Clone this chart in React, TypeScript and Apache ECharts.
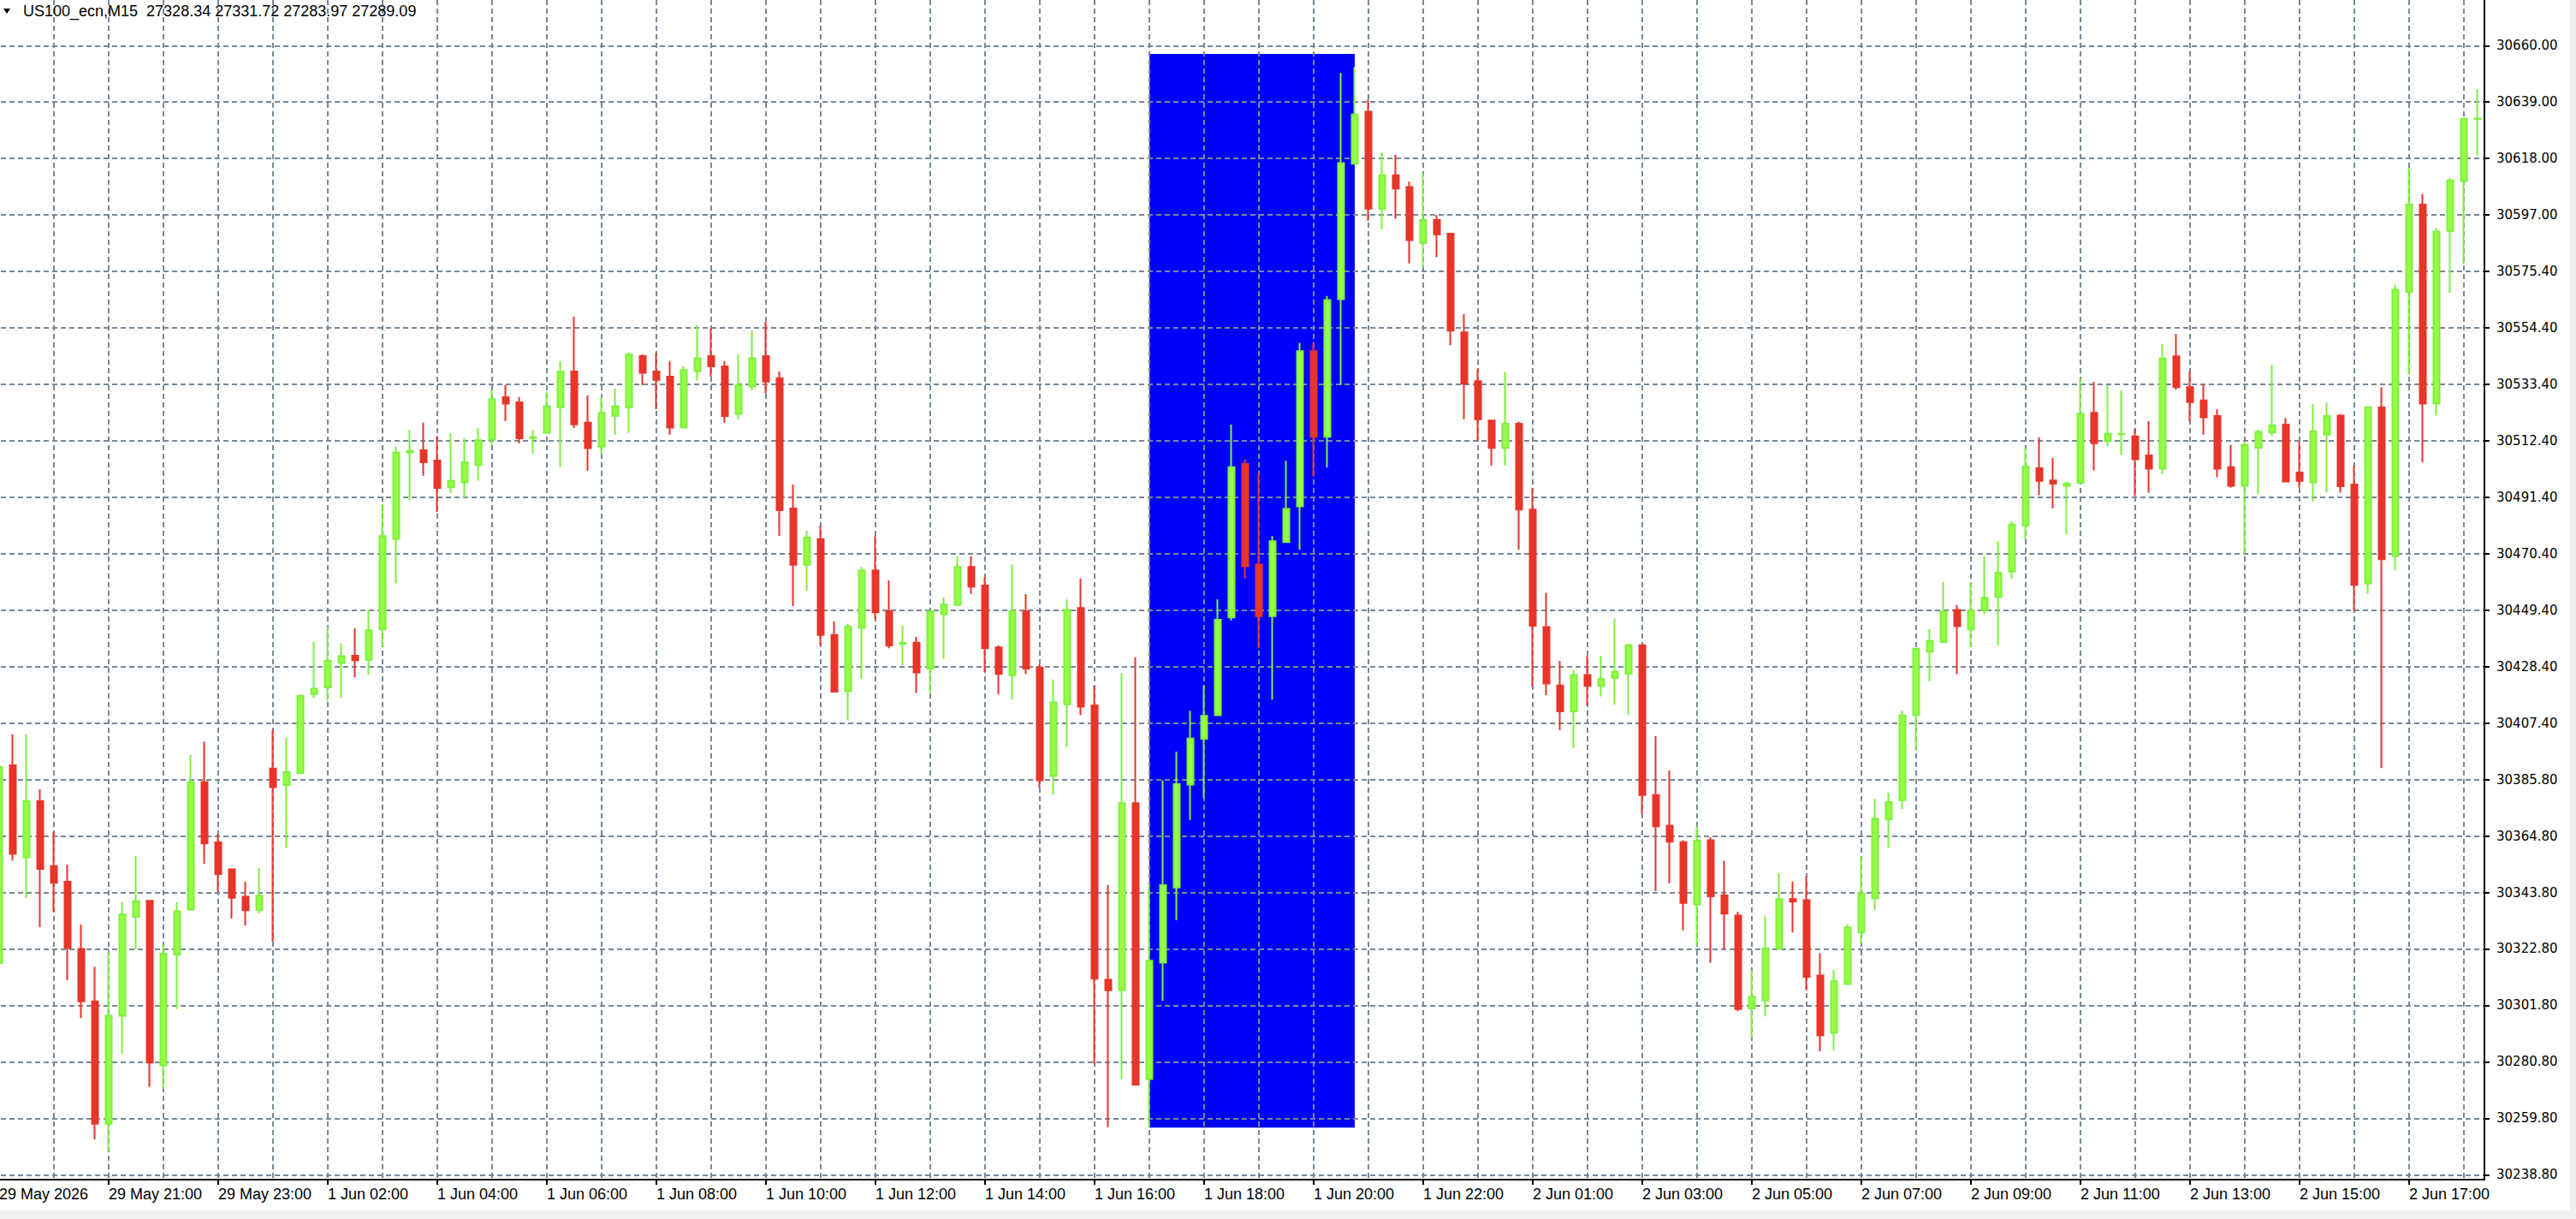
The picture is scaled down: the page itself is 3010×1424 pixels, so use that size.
import React, { useEffect, useRef } from "react";
import * as echarts from "echarts";

// ---------- data ----------
const sessions = [
  { day: "29 May", startHour: 19, bars: 20 },
  { day: "1 Jun", startHour: 1, bars: 92 },
  { day: "2 Jun", startHour: 1, bars: 70 },
];

const timeLabels = [
  "29 May 2026", "29 May 21:00", "29 May 23:00", "1 Jun 02:00", "1 Jun 04:00", "1 Jun 06:00",
  "1 Jun 08:00", "1 Jun 10:00", "1 Jun 12:00", "1 Jun 14:00", "1 Jun 16:00", "1 Jun 18:00",
  "1 Jun 20:00", "1 Jun 22:00", "2 Jun 01:00", "2 Jun 03:00", "2 Jun 05:00", "2 Jun 07:00",
  "2 Jun 09:00", "2 Jun 11:00", "2 Jun 13:00", "2 Jun 15:00", "2 Jun 17:00",
];

const priceLabels = [
  "30660.00", "30639.00", "30618.00", "30597.00", "30575.40", "30554.40", "30533.40",
  "30512.40", "30491.40", "30470.40", "30449.40", "30428.40", "30407.40", "30385.80",
  "30364.80", "30343.80", "30322.80", "30301.80", "30280.80", "30259.80", "30238.80",
];

const opens = [
  30317.8, 30391.5, 30357.2, 30378.2, 30353.9, 30348.1, 30323.0, 30303.5, 30257.8, 30298.1,
  30335.0, 30341.0, 30279.6, 30320.9, 30337.7, 30385.3, 30362.8, 30352.7, 30342.5, 30337.5,
  30390.3, 30384.2, 30388.6, 30418.1, 30420.6, 30429.7, 30432.4, 30430.9, 30442.2, 30476.0,
  30508.2, 30509.0, 30505.2, 30495.2, 30497.1, 30503.5, 30513.0, 30528.8, 30526.9, 30513.6,
  30515.6, 30525.1, 30538.4, 30519.3, 30510.4, 30521.9, 30525.1, 30544.2, 30538.4, 30536.5,
  30517.5, 30538.6, 30544.2, 30540.3, 30522.6, 30532.8, 30544.2, 30535.9, 30487.3, 30466.3,
  30475.9, 30440.1, 30419.2, 30442.8, 30464.2, 30449.0, 30436.9, 30437.3, 30427.6, 30447.9,
  30451.3, 30465.5, 30458.6, 30435.5, 30425.1, 30449.0, 30427.9, 30387.5, 30414.3, 30450.2,
  30413.9, 30311.5, 30307.6, 30377.4, 30274.5, 30317.9, 30345.9, 30384.3, 30401.4, 30410.2,
  30446.7, 30503.9, 30466.4, 30447.2, 30474.8, 30488.1, 30546.0, 30514.1, 30565.4, 30615.9,
  30635.3, 30599.2, 30611.6, 30607.2, 30586.4, 30594.9, 30589.8, 30553.0, 30534.8, 30520.1,
  30509.9, 30518.9, 30486.9, 30443.1, 30421.3, 30411.6, 30425.2, 30421.1, 30424.2, 30425.7,
  30436.3, 30380.4, 30369.0, 30362.9, 30339.6, 30363.6, 30343.0, 30335.5, 30300.8, 30303.8,
  30323.2, 30341.6, 30341.2, 30313.1, 30291.7, 30309.9, 30329.2, 30341.9, 30371.3, 30378.5,
  30410.3, 30433.9, 30437.5, 30449.5, 30442.2, 30449.3, 30454.3, 30463.8, 30481.0, 30502.3,
  30497.8, 30495.8, 30496.9, 30523.0, 30512.5, 30515.0, 30514.2, 30507.1, 30502.2, 30544.1,
  30532.6, 30527.6, 30521.8, 30502.7, 30495.8, 30510.0, 30515.7, 30518.6, 30500.7, 30497.1,
  30514.9, 30522.0, 30496.3, 30459.4, 30525.0, 30469.6, 30568.0, 30600.7, 30526.4, 30590.9,
  30609.5, 30632.6,
];

const closes = [
  30390.9, 30358.5, 30378.2, 30352.9, 30347.7, 30323.4, 30303.5, 30257.8, 30298.1, 30335.9,
  30340.8, 30280.6, 30321.3, 30337.1, 30385.3, 30362.4, 30351.0, 30342.1, 30337.5, 30342.9,
  30383.4, 30389.0, 30417.5, 30420.1, 30430.5, 30432.2, 30430.7, 30441.9, 30477.0, 30508.2,
  30508.8, 30504.6, 30495.0, 30497.6, 30504.5, 30512.8, 30528.1, 30526.4, 30513.5, 30513.9,
  30525.5, 30538.3, 30518.7, 30509.8, 30523.0, 30525.5, 30544.7, 30537.9, 30535.3, 30517.5,
  30539.0, 30543.4, 30540.3, 30521.8, 30533.3, 30543.4, 30534.7, 30486.7, 30466.3, 30476.5,
  30440.1, 30419.0, 30443.3, 30464.2, 30448.6, 30436.2, 30437.1, 30426.2, 30449.0, 30451.5,
  30465.5, 30458.2, 30435.2, 30425.6, 30449.0, 30427.6, 30385.9, 30415.0, 30449.5, 30413.4,
  30311.9, 30307.6, 30377.4, 30272.4, 30318.6, 30346.8, 30384.5, 30401.5, 30410.0, 30445.8,
  30502.7, 30465.8, 30447.2, 30475.1, 30487.2, 30546.0, 30514.1, 30565.1, 30616.2, 30634.3,
  30599.2, 30611.6, 30606.7, 30587.4, 30594.9, 30589.6, 30553.7, 30533.9, 30520.6, 30509.9,
  30518.9, 30486.9, 30443.6, 30422.0, 30411.6, 30425.2, 30421.1, 30423.7, 30426.4, 30436.3,
  30380.4, 30368.8, 30363.0, 30340.2, 30363.4, 30342.7, 30336.2, 30300.6, 30305.2, 30323.2,
  30341.6, 30340.7, 30312.6, 30290.8, 30311.0, 30331.0, 30343.7, 30371.6, 30377.9, 30410.1,
  30435.0, 30437.9, 30448.9, 30443.4, 30449.3, 30454.0, 30463.4, 30481.3, 30503.0, 30497.6,
  30496.6, 30496.6, 30522.7, 30511.7, 30515.2, 30515.1, 30505.7, 30502.2, 30543.3, 30532.6,
  30527.0, 30521.3, 30502.2, 30495.8, 30511.0, 30515.9, 30518.4, 30497.4, 30497.6, 30516.1,
  30521.8, 30495.6, 30458.8, 30525.0, 30468.4, 30568.9, 30600.7, 30526.4, 30590.6, 30609.7,
  30632.7, 30632.8,
];

const lows = [
  30316.1, 30356.0, 30342.1, 30331.1, 30336.9, 30311.4, 30297.2, 30252.0, 30247.6, 30283.9,
  30322.8, 30271.5, 30270.7, 30300.6, 30337.7, 30354.7, 30344.4, 30334.4, 30331.7, 30336.3,
  30325.7, 30360.6, 30388.6, 30416.6, 30415.4, 30416.6, 30424.3, 30425.3, 30435.5, 30459.4,
  30490.5, 30499.5, 30486.0, 30493.1, 30491.5, 30497.7, 30511.0, 30519.9, 30511.6, 30507.8,
  30515.6, 30502.7, 30517.3, 30501.4, 30507.8, 30514.8, 30515.5, 30533.4, 30524.4, 30514.9,
  30517.5, 30535.2, 30536.5, 30519.3, 30520.6, 30531.5, 30530.2, 30477.1, 30450.9, 30456.7,
  30436.2, 30419.0, 30408.4, 30423.7, 30446.0, 30435.2, 30428.8, 30418.5, 30418.5, 30431.3,
  30451.3, 30455.5, 30426.2, 30418.0, 30416.0, 30425.6, 30383.1, 30380.5, 30398.2, 30410.2,
  30280.2, 30256.5, 30274.4, 30272.4, 30256.5, 30303.6, 30333.7, 30371.2, 30379.4, 30410.2,
  30445.5, 30461.2, 30435.2, 30416.0, 30474.8, 30471.9, 30499.3, 30502.6, 30533.4, 30615.9,
  30594.6, 30591.5, 30595.4, 30578.7, 30577.2, 30581.1, 30548.2, 30520.6, 30512.6, 30503.4,
  30503.4, 30471.9, 30420.8, 30417.7, 30404.6, 30398.1, 30413.8, 30417.2, 30414.1, 30410.4,
  30373.4, 30344.6, 30347.5, 30330.0, 30324.2, 30317.8, 30322.8, 30299.9, 30289.7, 30297.9,
  30322.8, 30329.2, 30307.6, 30284.9, 30285.2, 30309.6, 30325.1, 30337.5, 30360.6, 30375.2,
  30397.1, 30422.9, 30437.5, 30425.5, 30435.5, 30447.9, 30436.2, 30461.1, 30475.8, 30492.3,
  30487.4, 30477.7, 30496.9, 30501.5, 30510.5, 30507.3, 30491.9, 30493.2, 30500.2, 30531.6,
  30519.8, 30514.9, 30499.0, 30495.1, 30470.3, 30492.7, 30514.4, 30497.1, 30495.1, 30489.9,
  30493.2, 30493.2, 30449.1, 30455.6, 30390.5, 30464.3, 30537.2, 30504.6, 30522.0, 30567.8,
  30578.6, 30619.0,
];

const highs = [
  30402.3, 30403.1, 30403.1, 30382.6, 30366.8, 30354.5, 30332.1, 30316.3, 30321.9, 30340.4,
  30357.7, 30341.0, 30324.8, 30340.4, 30395.4, 30400.4, 30365.9, 30352.7, 30348.1, 30353.3,
  30404.6, 30401.9, 30417.5, 30437.6, 30443.0, 30437.0, 30442.6, 30449.4, 30488.9, 30510.3,
  30516.7, 30519.3, 30514.2, 30515.4, 30513.4, 30517.3, 30531.5, 30533.4, 30528.8, 30516.7,
  30530.8, 30542.3, 30558.9, 30529.5, 30528.8, 30532.0, 30545.4, 30544.8, 30545.4, 30542.3,
  30540.3, 30555.7, 30554.5, 30542.3, 30544.8, 30553.7, 30556.9, 30538.4, 30496.3, 30479.0,
  30481.0, 30445.2, 30444.4, 30465.5, 30477.0, 30460.5, 30443.7, 30439.4, 30449.0, 30454.1,
  30469.5, 30469.5, 30461.7, 30436.2, 30466.4, 30455.4, 30429.2, 30423.5, 30453.4, 30461.2,
  30421.2, 30346.8, 30426.0, 30431.8, 30346.8, 30385.9, 30396.6, 30411.8, 30421.2, 30453.4,
  30518.6, 30505.7, 30500.4, 30477.0, 30505.1, 30549.1, 30549.1, 30566.6, 30649.8, 30652.0,
  30639.9, 30620.1, 30619.3, 30609.2, 30612.3, 30596.8, 30589.8, 30559.8, 30539.4, 30520.1,
  30538.2, 30519.8, 30494.9, 30455.9, 30430.5, 30427.1, 30432.4, 30432.4, 30446.3, 30436.8,
  30436.3, 30402.4, 30389.6, 30363.6, 30368.6, 30364.7, 30355.9, 30336.8, 30315.1, 30335.5,
  30351.4, 30348.2, 30350.2, 30321.4, 30315.1, 30332.3, 30357.7, 30379.0, 30381.3, 30411.9,
  30435.0, 30442.3, 30459.9, 30451.3, 30459.9, 30469.4, 30475.1, 30482.6, 30509.8, 30513.9,
  30506.2, 30497.3, 30535.7, 30534.5, 30533.3, 30531.4, 30517.1, 30519.9, 30548.7, 30552.4,
  30538.4, 30533.8, 30524.3, 30511.0, 30512.0, 30516.7, 30540.9, 30521.1, 30512.3, 30526.2,
  30526.9, 30522.6, 30503.2, 30525.5, 30532.5, 30570.8, 30614.4, 30604.6, 30591.9, 30610.6,
  30632.7, 30643.7,
];

// rectangle object drawn on the chart (time index range, price range)
const boxFromBar = 84;
const boxToBar = 99;
const boxTopPrice = 30656.9;
const boxBottomPrice = 30256.4;

const titleText = "US100_ecn,M15  27328.34 27331.72 27283.97 27289.09";

// ---------- layout ----------
const W = 3010;
const H = 1424;
const BAR_PX = 16;
const PLOT_LEFT = -9;
const PLOT_BOTTOM = 1378;
const PRICE_GRID_TOP = 53.25;
const PRICE_STEP_PX = 65.95;

const GRID_COLOR = "#778899";
const BULL_FILL = "#98FB46";
const BULL_LINE = "#7CF23C";
const BEAR = "#E8352A";

function buildCategories(): string[] {
  const out: string[] = [];
  sessions.forEach((s) => {
    for (let k = 0; k < s.bars; k++) {
      const mins = s.startHour * 60 + k * 15;
      const hh = String(Math.floor(mins / 60)).padStart(2, "0");
      const mm = String(mins % 60).padStart(2, "0");
      out.push(`${s.day} ${hh}:${mm}`);
    }
  });
  return out;
}

export default function App() {
  const ref = useRef<HTMLDivElement>(null);

  useEffect(() => {
    if (!ref.current) return;
    const chart = echarts.init(ref.current, null, { renderer: "svg" });

    const categories = buildCategories();
    const n = categories.length;
    const plotWidth = n * BAR_PX;
    const steps = priceLabels.length - 1;
    const priceTop = parseFloat(priceLabels[0]);
    const priceBottom = parseFloat(priceLabels[steps]);
    const pricePerPx = (priceTop - priceBottom) / (steps * PRICE_STEP_PX);
    const yMax = priceTop + PRICE_GRID_TOP * pricePerPx;
    const yMin = priceBottom - (PLOT_BOTTOM - (PRICE_GRID_TOP + steps * PRICE_STEP_PX)) * pricePerPx;

    const candleData = categories.map((_, i) => [opens[i], closes[i], lows[i], highs[i]]);

    const option: any = {
      animation: false,
      backgroundColor: "#FFFFFF",
      grid: [
        { left: PLOT_LEFT, top: 0, width: plotWidth, height: PLOT_BOTTOM, containLabel: false, outerBoundsMode: "none" },
        { left: PLOT_LEFT, top: PRICE_GRID_TOP, width: plotWidth, height: steps * PRICE_STEP_PX, containLabel: false, outerBoundsMode: "none" },
      ],
      xAxis: [
        {
          type: "category",
          gridIndex: 0,
          data: categories,
          boundaryGap: true,
          z: 1.5,
          axisLine: { show: true, lineStyle: { color: "#000000", width: 2 } },
          axisTick: {
            show: true,
            alignWithLabel: true,
            length: 6,
            interval: (idx: number) => idx % 8 === 0,
            lineStyle: { color: "#000000", width: 2 },
          },
          axisLabel: {
            show: true,
            interval: (idx: number) => idx % 8 === 0,
            formatter: (_v: string, idx: number) => timeLabels[Math.round(idx / 8)] ?? "",
            align: "left",
            margin: 8,
            color: "#000000",
            fontFamily: "Liberation Sans",
            fontSize: 18,
            hideOverlap: false,
          },
          splitLine: {
            show: true,
            alignWithLabel: true,
            interval: (idx: number) => idx % 4 === 0,
            lineStyle: { color: GRID_COLOR, width: 2, type: [6, 4] },
          },
        },
        {
          type: "category",
          gridIndex: 1,
          data: categories,
          show: false,
        },
      ],
      yAxis: [
        {
          type: "value",
          gridIndex: 0,
          position: "right",
          min: yMin,
          max: yMax,
          z: 1.5,
          axisLine: { show: true, lineStyle: { color: "#000000", width: 2 } },
          axisTick: { show: false },
          axisLabel: { show: false },
          splitLine: { show: false },
        },
        {
          type: "value",
          gridIndex: 1,
          position: "right",
          inverse: true,
          min: 0,
          max: steps,
          interval: 1,
          z: 1.5,
          axisLine: { show: false },
          axisTick: { show: true, length: 6, lineStyle: { color: "#000000", width: 2 } },
          axisLabel: {
            show: true,
            margin: 14,
            formatter: (v: number) => priceLabels[Math.round(v)] ?? "",
            color: "#000000",
            fontFamily: "DejaVu Sans",
            fontSize: 15,
          },
          splitLine: { show: true, lineStyle: { color: GRID_COLOR, width: 2, type: [6, 4] } },
        },
      ],
      series: [
        {
          type: "candlestick",
          xAxisIndex: 0,
          yAxisIndex: 0,
          data: candleData,
          barWidth: 8,
          z: 2,
          itemStyle: {
            color: BULL_FILL,
            color0: BEAR,
            borderColor: BULL_LINE,
            borderColor0: BEAR,
            borderWidth: 2,
          },
          markArea: {
            silent: true,
            z: 1,
            itemStyle: { color: "#0000FF", opacity: 1, borderWidth: 0 },
            label: { show: false },
            data: [
              [
                { xAxis: categories[boxFromBar], yAxis: boxTopPrice },
                { xAxis: categories[boxToBar], yAxis: boxBottomPrice },
              ],
            ],
          },
        },
      ],
      graphic: [
        { type: "rect", silent: true, z: 100, shape: { x: 0, y: 1414, width: W, height: H - 1414 }, style: { fill: "#F0F0F0" } },
        { type: "rect", silent: true, z: 100, shape: { x: 3003, y: 0, width: W - 3003, height: H }, style: { fill: "#F0F0F0" } },
        { type: "polygon", silent: true, z: 100, shape: { points: [[4, 10], [12, 10], [8, 16]] }, style: { fill: "#000000" } },
        {
          type: "text",
          silent: true,
          z: 100,
          x: 27,
          y: 13,
          style: { text: titleText, fill: "#000000", font: "18px 'Liberation Sans'", verticalAlign: "middle", align: "left" },
        },
      ],
    };

    chart.setOption(option);
    return () => chart.dispose();
  }, []);

  return (
    <div
      ref={ref}
      style={{ position: "fixed", left: 0, top: 0, width: W, height: H, background: "#FFFFFF" }}
    />
  );
}
